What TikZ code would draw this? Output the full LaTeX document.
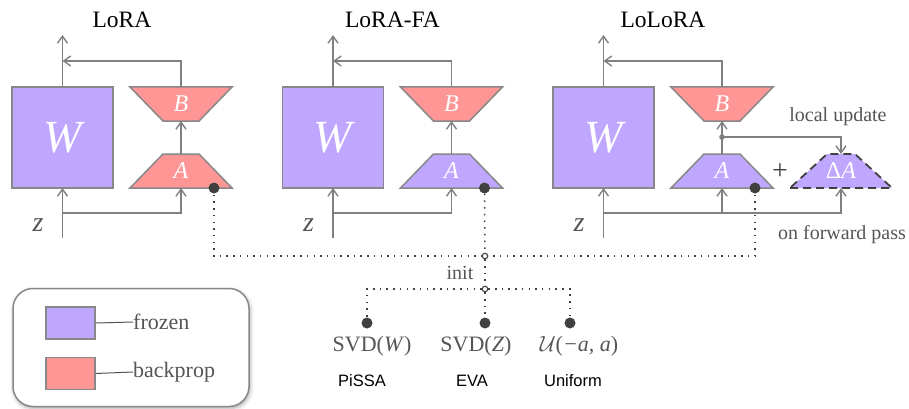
\RequirePackage{fix-cm}
\documentclass[tikz,border=0pt]{standalone}
\usepackage{fontspec}
\setmainfont{Liberation Serif}
\newfontfamily\methodfont{Liberation Sans}
\usetikzlibrary{arrows.meta,shadows.blur,calc}

\definecolor{frozenc}{RGB}{191,166,255}
\definecolor{gradc}{RGB}{255,150,150}
\definecolor{edgec}{RGB}{136,136,136}
\definecolor{linec}{RGB}{128,128,128}
\definecolor{labelc}{RGB}{85,85,85}
\definecolor{dotc}{RGB}{64,64,64}

\newcommand\fs[1]{\fontsize{#1}{#1}\selectfont}

\tikzset{
  arr/.style={draw=linec, line width=1.5pt, -{Straight Barb[length=7pt,width=10pt,line width=1.4pt]}},
  wbox/.style={draw=edgec, line width=1.5pt, fill=frozenc, minimum width=101pt,
    minimum height=101pt, inner sep=0pt, outer sep=0pt, text=white, font=\fs{46}\itshape},
  trapbox/.style={minimum width=102pt, minimum height=34pt, inner sep=0pt,
    outer sep=0pt, text=white, font=\fs{24}\itshape},
  trapedge/.style={draw=edgec, line width=1.5pt},
  title/.style={font=\fs{23.5}, text=black},
  lbl/.style={font=\fs{20}, text=labelc, inner sep=0pt},
  initlbl/.style={font=\fs{22}, text=labelc, inner sep=0pt},
  method/.style={font=\methodfont\fs{16.5}, text=black, inner sep=0pt},
  initdot/.style={circle, fill=dotc, minimum size=11pt, inner sep=0pt},
  junction/.style={circle, draw=dotc, fill=white, line width=1.1pt, minimum size=5.5pt, inner sep=0pt},
  dots/.style={draw=dotc, line width=1.5pt, dash pattern=on 1.5pt off 5.2pt},
}

% trapezoid widening downwards: name, centre, fill, label, top inset
\newcommand\uptrap[5]{%
  \coordinate (#1c) at (#2);
  \draw[trapedge, fill=#3] ($(#1c)+(-51,17)$) -- ($(#1c)+(51,17)$)
    -- ($(#1c)+(51-#5,-17)$) -- ($(#1c)+(-51+#5,-17)$) -- cycle;
  \node[trapbox] (#1) at (#1c) {#4};}
% trapezoid narrowing downwards
\newcommand\downtrap[5]{%
  \coordinate (#1c) at (#2);
  \draw[trapedge, fill=#3] ($(#1c)+(-51,-17)$) -- ($(#1c)+(51,-17)$)
    -- ($(#1c)+(51-#5,17)$) -- ($(#1c)+(-51+#5,17)$) -- cycle;
  \node[trapbox] (#1) at (#1c) {#4};}

% one adapter block: index, x offset, colour of A, title
\newcommand\block[4]{%
  \node[title] (t#1) at (122+#2, 20) {#4};
  \node[wbox] (W#1) at (62.5+#2, 137.5) {W};
  \downtrap{B#1}{181+#2, 104}{gradc}{B}{33}
  \uptrap{A#1}{181+#2, 171}{#3}{A}{33}
  \coordinate (in#1) at (62.5+#2, 238);
  \coordinate (j#1) at (62.5+#2, 213);
  \coordinate (out#1) at (62.5+#2, 35);
  \coordinate (fb#1) at (62.5+#2, 61);
  \node[lbl, font=\fs{28}\itshape] (z#1) at (38+#2, 225) {z};
  \draw[arr] (in#1) -- (W#1.south);
  \draw[arr] (j#1) -| (A#1.south);
  \draw[arr] (W#1.north) -- (out#1);
  \draw[arr] (B#1.north) |- (fb#1);
  \draw[arr] (A#1.north) -- (B#1.south);
  \node[initdot] (d#1) at (214+#2, 188) {};}

\begin{document}
\begin{tikzpicture}[x=1pt, y=-1pt]
  \useasboundingbox (0,0) rectangle (909,409);

  \block{1}{0}{gradc}{LoRA}
  \block{2}{270.5}{frozenc}{LoRA-FA}
  \block{3}{541}{frozenc}{LoLoRA}

  % local update of A on the forward pass
  \node[font=\fs{28}, text=dotc, inner sep=0pt] (plus) at (780, 172) {+};
  \coordinate (dAc) at (841, 171);
  \fill[frozenc] ($(dAc)+(-51,17)$) -- ($(dAc)+(51,17)$)
    -- ($(dAc)+(14,-17)$) -- ($(dAc)+(-14,-17)$) -- cycle;
  \draw[draw=dotc, line width=1.8pt, dash pattern=on 8pt off 5pt]
    ($(dAc)+(-51,17)$) -- ($(dAc)+(51,17)$)
    -- ($(dAc)+(14,-17)$) -- ($(dAc)+(-14,-17)$) -- cycle;
  \node[trapbox] (dA) at (dAc) {{\upshape Δ}A};
  \coordinate (lu) at (722, 137);
  \fill[linec] (lu) circle (2.8pt);
  \draw[arr] (lu) -| (dA.north);
  \draw[arr] (j3) -| (dA.south);
  \node[lbl] (lulbl) at (838, 117) {local update};
  \node[lbl] (fplbl) at (842, 235) {on forward pass};

  % initialisation choices
  \coordinate (c1) at (214, 256);
  \coordinate (c3) at (755, 256);
  \node[junction] (hub) at (485, 256) {};
  \node[junction] (split) at (485, 289) {};
  \draw[dots] (d1.center) -- (c1) -- (hub);
  \draw[dots] (d3.center) -- (c3) -- (hub);
  \draw[dots] (d2.south) -- (hub);
  \draw[dots] (hub) -- (split);
  \node[lbl] (initlbl) at (460, 273) {init};

  \node[initdot] (s1) at (367, 323) {};
  \node[initdot] (s2) at (485, 323) {};
  \node[initdot] (s3) at (570, 323) {};
  \coordinate (b1) at (367, 289);
  \coordinate (b3) at (570, 289);
  \draw[dots] (split) -- (b1) -- (s1);
  \draw[dots] (split) -- (b3) -- (s3);
  \draw[dots] (split) -- (s2);

  \node[initlbl] (svdw) at (372, 346) {SVD(\textit{W})};
  \node[initlbl] (svdz) at (476, 346) {SVD(\textit{Z})};
  \node[initlbl] (unif) at (579, 346) {$\mathcal{U}$(\textit{−a}, \textit{a})};
  \node[method] (m1) at (362, 381) {PiSSA};
  \node[method] (m2) at (472, 381) {EVA};
  \node[method] (m3) at (573, 381) {Uniform};

  % legend
  \node[draw=edgec, line width=1.5pt, fill=white, rounded corners=20pt,
        minimum width=236pt, minimum height=118pt, inner sep=0pt,
        blur shadow={shadow xshift=1pt, shadow yshift=-2pt, shadow blur radius=4pt, shadow opacity=35}]
        (legend) at (131, 347.5) {};
  \node[draw=edgec, line width=1.2pt, fill=frozenc, minimum width=49pt, minimum height=32pt, inner sep=0pt]
        (kf) at (70.5, 323) {};
  \node[draw=edgec, line width=1.2pt, fill=gradc, minimum width=49pt, minimum height=32pt, inner sep=0pt]
        (kb) at (70.5, 373.5) {};
  \node[lbl, font=\fs{22}, anchor=west] (kft) at (133, 322) {frozen};
  \node[lbl, font=\fs{22}, anchor=west] (kbt) at (133, 372) {backprop};
  \draw[draw=labelc, line width=1pt] (kf.east) -- (kft.west);
  \draw[draw=labelc, line width=1pt] (kb.east) -- (kbt.west);
\end{tikzpicture}
\end{document}
